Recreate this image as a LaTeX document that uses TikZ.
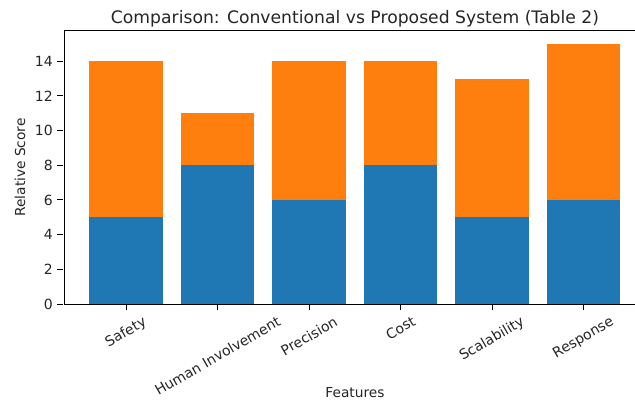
\documentclass[tikz,border=0pt]{standalone}
\usepackage{fontspec}
\setmainfont{DejaVu Sans}
\usepackage{graphicx}
\definecolor{mplblue}{HTML}{1F77B4}
\definecolor{mplorange}{HTML}{FF7F0E}
\definecolor{txt}{HTML}{262626}
\begin{document}
\begin{tikzpicture}[x=0.75pt,y=0.75pt,
  spine/.style={draw=black,line width=0.75pt},
  tickmark/.style={draw=black,line width=0.75pt},
  ticklabel/.style={font=\fontsize{10.5}{12}\selectfont,text=txt,inner sep=0pt},
  titlelabel/.style={font=\fontsize{12.9}{15}\selectfont,text=txt,inner sep=0pt},
  axlabel/.style={font=\fontsize{10.3}{12}\selectfont,text=txt,inner sep=0pt},
  convbar/.style={fill=mplblue,draw=none},
  propbar/.style={fill=mplorange,draw=none}]
\useasboundingbox (0,0) rectangle (635,400);
\fill[white] (0,0) rectangle (635,400);
% data scope: x = bar index, y = score
\begin{scope}[shift={(126,96)},x=68.625pt,y=13pt]
  \foreach \i/\c/\t in {0/5/14,1/8/11,2/6/14,3/8/14,4/5/13,5/6/15}{
    \fill[convbar] (\i-0.4,0) rectangle (\i+0.4,\c);
    \fill[propbar] (\i-0.4,\c) rectangle (\i+0.4,\t);
  }
  % x ticks
  \foreach \i/\lab in {0/Safety,1/Human Involvement,2/Precision,3/Cost,4/Scalability,5/Response}{
    \coordinate (xt\i) at (\i,0);
    \draw[tickmark] (xt\i) -- ++(0,-4.5pt);
    \node[ticklabel,anchor=north] (xl\i) at ([yshift=-8.5pt]xt\i) {\rotatebox{30}{\lab}};
  }
  % y ticks
  \foreach \v in {0,2,4,6,8,10,12,14}{
    \coordinate (yt\v) at (-0.6885,\v);
    \draw[tickmark] (yt\v) -- ++(-4.5pt,0);
    \node[ticklabel,anchor=east] (yl\v) at ([xshift=-7.5pt]yt\v) {\v};
  }
\end{scope}
% spines
\coordinate (bl) at (64,96);
\coordinate (tl) at (64,369);
\coordinate (br) at (636,96);
\coordinate (tr) at (636,369);
\draw[spine] (br) -- (bl) -- (tl) -- (tr);
% labels
\node[titlelabel] (title) at (355,381.5) {Comparison: Conventional vs Proposed System (Table 2)};
\node[axlabel] (xlabel) at (355,7) {Features};
\node[axlabel] (ylabel) at (20,232.5) {\rotatebox{90}{Relative Score}};
\end{tikzpicture}
\end{document}
